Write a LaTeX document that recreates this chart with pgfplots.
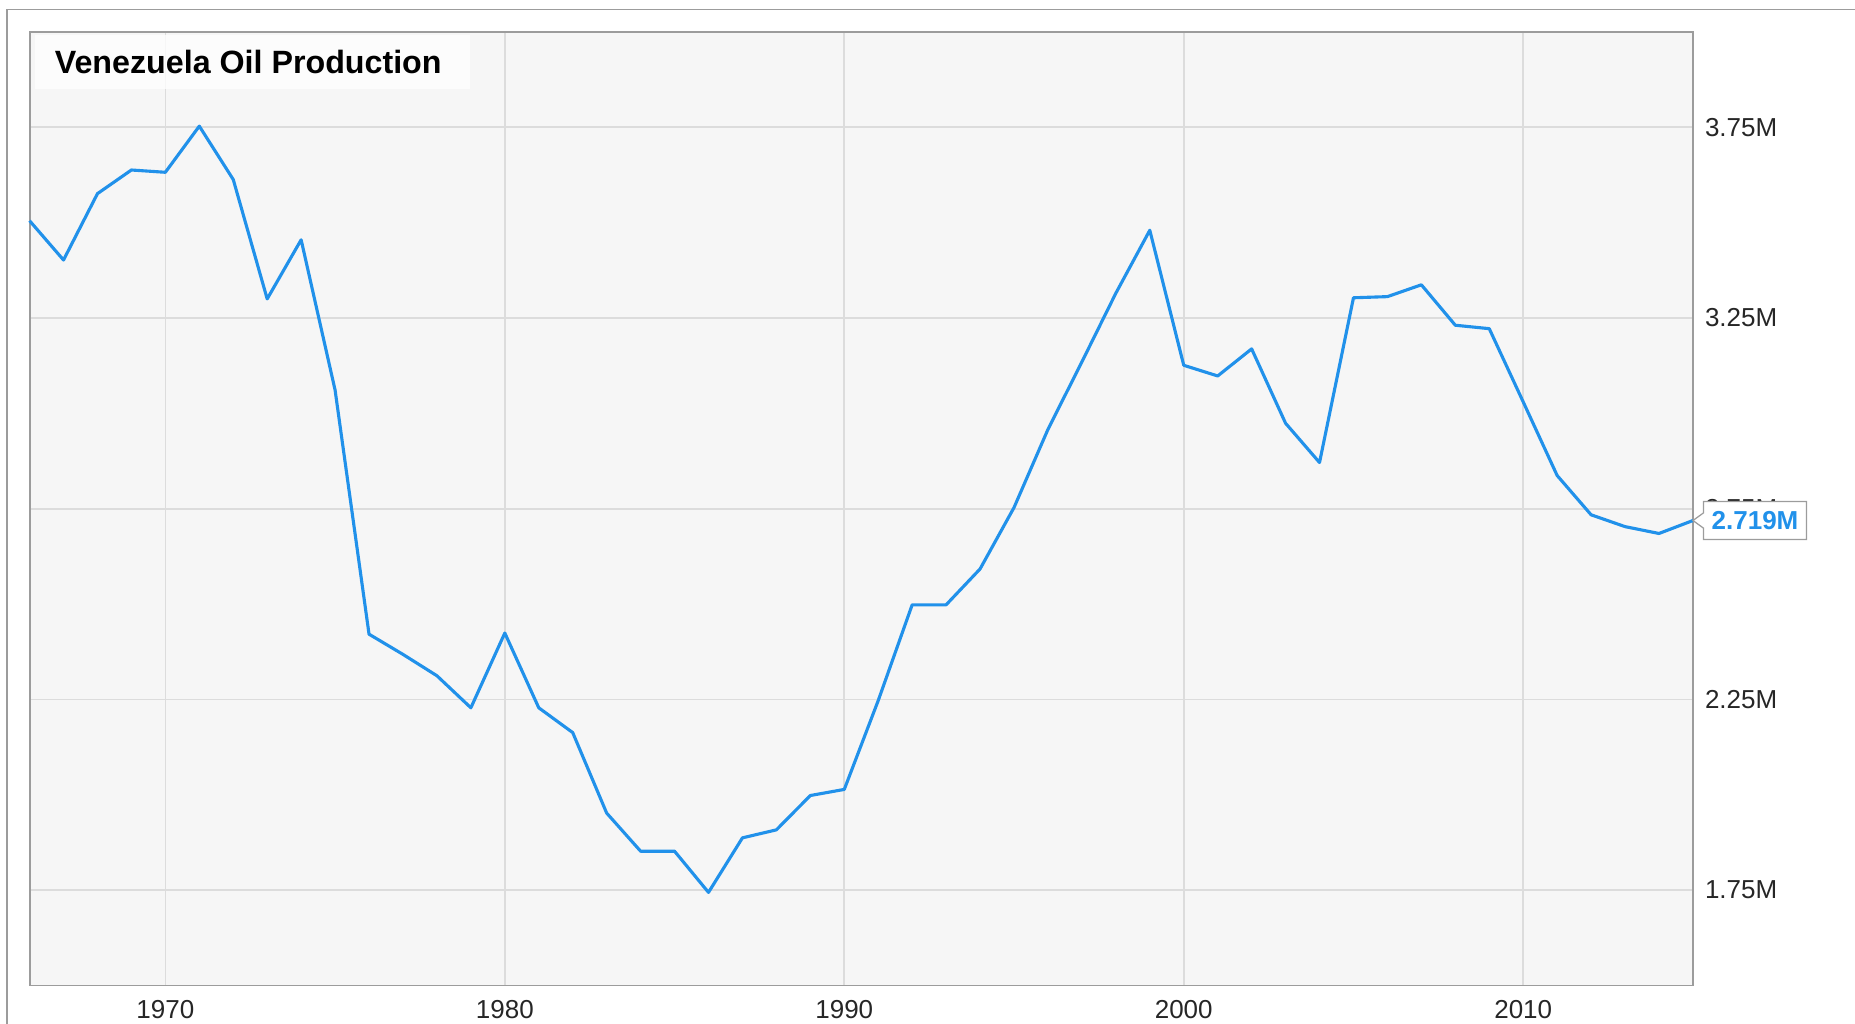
\documentclass[border=0pt]{standalone}
\usepackage{pgfplots}
\pgfplotsset{compat=1.18}
\usepackage{fontspec}
\setmainfont{Liberation Sans}

\definecolor{plotbg}{HTML}{F6F6F6}
\definecolor{gridc}{HTML}{DCDCDC}
\definecolor{framec}{HTML}{9C9C9C}
\definecolor{linec}{HTML}{2191EA}

\begin{document}
\begin{tikzpicture}
    % page size follows the reference (1568 x 865 px, 1 px = 0.02cm)
    \path[use as bounding box] (0,0) rectangle (31.36,17.3);
    \draw[framec, line width=0.6pt] (0.12,-0.2) -- (0.12,17.14) -- (31.6,17.14);

    \begin{axis}[
        at={(0.5cm,0.64cm)},
        anchor=south west,
        scale only axis,
        width=28.12cm,
        height=16.12cm,
        xmin=1966, xmax=2015,
        ymin=1.5, ymax=4.0,
        xtick={1970,1980,1990,2000,2010},
        xticklabels={1970,1980,1990,2000,2010},
        ytick={1.75,2.25,2.75,3.25,3.75},
        yticklabels={1.75M,2.25M,2.75M,3.25M,3.75M},
        yticklabel pos=right,
        major tick length=0pt,
        tick label style={font=\fontsize{12.5}{14}\selectfont, text=black!85},
        xticklabel style={yshift=-0.12cm},
        yticklabel style={xshift=0.08cm},
        grid=major,
        grid style={gridc, line width=0.8pt},
        axis background/.style={fill=plotbg},
        axis line style={framec, line width=0.9pt},
        clip=false,
        /pgf/number format/assume math mode=true,
    ]
    \addplot[linec, line width=1.5pt, line join=round] coordinates {
        (1966,3.505)(1967,3.402)(1968,3.576)(1969,3.638)(1970,3.632)
        (1971,3.753)(1972,3.613)(1973,3.300)(1974,3.455)(1975,3.061)
        (1976,2.421)(1977,2.368)(1978,2.312)(1979,2.228)(1980,2.424)
        (1981,2.228)(1982,2.163)(1983,1.952)(1984,1.852)(1985,1.852)
        (1986,1.744)(1987,1.887)(1988,1.908)(1989,1.998)(1990,2.014)
        (1991,2.247)(1992,2.498)(1993,2.498)(1994,2.592)(1995,2.753)
        (1996,2.958)(1997,3.135)(1998,3.315)(1999,3.480)(2000,3.126)
        (2001,3.098)(2002,3.169)(2003,2.974)(2004,2.871)(2005,3.303)
        (2006,3.306)(2007,3.337)(2008,3.231)(2009,3.222)(2010,3.030)
        (2011,2.837)(2012,2.734)(2013,2.703)(2014,2.685)(2015,2.719)
    };
    \coordinate (last) at (axis cs:2015,2.719);
    \end{axis}

    % title box
    \fill[white, opacity=0.75] (0.6,15.8) rectangle (7.94,16.7);
    \node[anchor=west, font=\fontsize{15.5}{18}\selectfont\bfseries, inner sep=0pt]
        at (0.92,16.26) {Venezuela Oil Production};

    % last value callout
    \begin{scope}[shift={(last)}]
        \draw[framec, fill=white, line width=0.6pt]
            (0.18,0.32) -- (1.92,0.32) -- (1.92,-0.32) -- (0.18,-0.32)
            -- (0.18,-0.13) -- (0,0) -- (0.18,0.13) -- cycle;
        \node[text=linec, font=\fontsize{12.5}{14}\selectfont\bfseries, inner sep=0pt]
            at (1.05,0) {2.719M};
    \end{scope}
\end{tikzpicture}
\end{document}
